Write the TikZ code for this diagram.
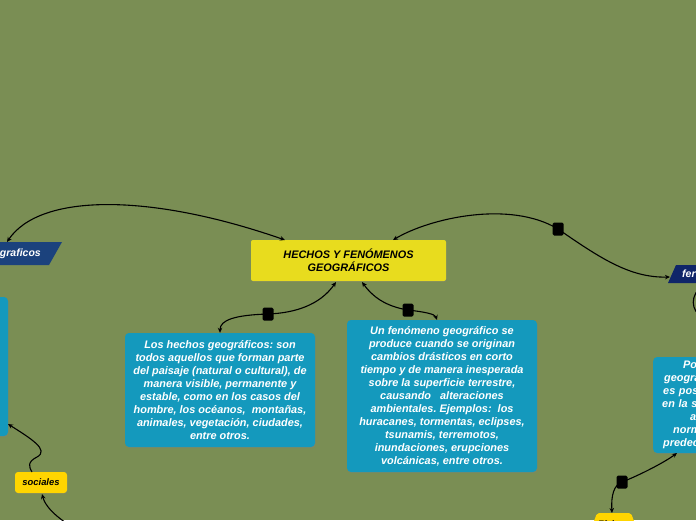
\documentclass[tikz,border=0pt]{standalone}
\usepackage{fontspec}
\setmainfont{Liberation Sans}
\usetikzlibrary{arrows.meta,shadows}
\definecolor{bg}{RGB}{122,142,84}
\definecolor{mainyellow}{RGB}{232,220,30}
\definecolor{boxblue}{RGB}{20,153,189}
\definecolor{leftnavy}{RGB}{27,66,125}
\definecolor{rightnavy}{RGB}{15,37,105}
\definecolor{subyellow}{RGB}{255,213,0}
\frenchspacing
\tikzset{
  tip/.tip={Stealth[length=5pt,width=4.5pt]},
  conn/.style={line width=1.1pt, draw=black},
  both/.style={conn, tip-tip},
  atstart/.style={conn, tip-},
  atend/.style={conn, -tip},
  marker/.style={fill=black, rounded corners=1.5pt, minimum width=11pt, minimum height=13pt, inner sep=0pt},
  bluebox/.style={fill=boxblue, rounded corners=4pt, text=white, inner sep=0pt,
    font=\fontsize{10.9}{13}\selectfont\bfseries\itshape, align=center,
    drop shadow={shadow xshift=0.6pt, shadow yshift=-1.2pt, opacity=0.35}},
  mainbox/.style={fill=mainyellow, rounded corners=2pt, text=black, inner sep=0pt,
    font=\fontsize{10.9}{13}\selectfont\bfseries\itshape, align=center,
    minimum width=195pt, minimum height=41pt,
    drop shadow={shadow xshift=0.6pt, shadow yshift=-1.2pt, opacity=0.3}},
  subbox/.style={fill=subyellow, rounded corners=3pt, text=black, inner sep=0pt,
    font=\fontsize{9.4}{11}\selectfont\bfseries\itshape,
    minimum width=52pt, minimum height=21pt,
    drop shadow={shadow xshift=0.6pt, shadow yshift=-1.2pt, opacity=0.3}},
  navytext/.style={text=white, inner sep=0pt, font=\fontsize{10.5}{12}\selectfont\bfseries\itshape},
  subtext/.style={text=black, inner sep=0pt, font=\fontsize{9.4}{11}\selectfont\bfseries\itshape},
}
\begin{document}
\begin{tikzpicture}[x=1pt,y=-1pt]
\useasboundingbox (0,0) rectangle (696,520);
\fill[bg] (0,0) rectangle (696,520);
\clip (0,0) rectangle (696,520);

% parallelogram labels
\fill[leftnavy] (-30,242) -- (62,242) -- (49,265) -- (-30,265) -- cycle;
\node[navytext, anchor=east] (graf) at (41,253.5) {graficos};
\fill[rightnavy] (676,265) -- (730,265) -- (722,283) -- (668,283) -- cycle;
\node[navytext, anchor=west] (fer) at (682,274) {fer};

% main node
\node[mainbox] (main) at (348.5,260.5) {HECHOS Y FENÓMENOS\\GEOGRÁFICOS};

% blue boxes
\node[bluebox, minimum width=190pt, minimum height=114pt] (hechos) at (220,390)
 {Los hechos geográficos: son\\todos aquellos que forman parte\\del paisaje (natural o cultural), de\\manera visible, permanente y\\estable, como en los casos del\\hombre, los océanos,\ \ montañas,\\animales, vegetación, ciudades,\\entre otros.};
\node[bluebox, minimum width=190pt, minimum height=152pt] (fen) at (442,396)
 {Un fenómeno geográfico se\\produce cuando se originan\\cambios drásticos en corto\\tiempo y de manera inesperada\\sobre la superficie terrestre,\\causando\ \ \ alteraciones\\ambientales. Ejemplos:\ \ los\\huracanes, tormentas, eclipses,\\tsunamis, terremotos,\\inundaciones, erupciones\\volcánicas, entre otros.};
\node[bluebox, minimum width=108pt, minimum height=139pt] (leftbox) at (-46,366.5) {};
\node[bluebox, anchor=west, text width=129pt, align=left, inner xsep=9pt, minimum height=96pt] (rightbox) at (653,405)
 {\hspace*{21pt}Po\\\hspace*{2pt}geogra\\\hspace*{1pt}es pos\\en la s\\\hspace*{28pt}a\\\hspace*{11pt}norm\\\hspace*{1pt}predec};

% small yellow nodes
\node[subbox] (soc) at (41,482.5) {sociales};
\fill[subyellow, rounded corners=2pt] (597,513) -- (631,513) -- (638,532) -- (590,532) -- cycle;
\node[subtext, anchor=base] (fis) at (614,527.5) {Físicos};

% markers
\node[marker] (mk1) at (268,314) {};
\node[marker] (mk2) at (408,310) {};
\node[marker] (mk3) at (558,229) {};
\node[marker] (mk4) at (622,482) {};

% anchor points
\coordinate (mainA) at (285,240);
\coordinate (grafA) at (7,242);
\coordinate (mainB) at (393,240);
\coordinate (ferA) at (670,277);
\coordinate (mainC) at (336,282);
\coordinate (mainD) at (362,282);
\coordinate (fenA) at (437,320);
\coordinate (rightA) at (677,453);
\coordinate (fisA) at (612,513);
\coordinate (leftA) at (8,424);
\coordinate (socA) at (32,472);
\coordinate (socB) at (42,494);
\coordinate (offA) at (72,527);
\coordinate (ferB) at (703,285);
\coordinate (offB) at (703,318);

% connectors
\draw[both] (mainA) .. controls (150,193) and (40,193) .. (grafA);
\draw[atstart] (mainB) .. controls (430,218) and (510,200) .. (mk3.center);
\draw[atend] (mk3.center) .. controls (600,258) and (630,278) .. (ferA);
\draw[atstart] (mainC) .. controls (320,305) and (295,313) .. (mk1.center);
\draw[atend] (mk1.center) .. controls (235,315) and (220,320) .. (hechos.north);
\draw[atstart] (mainD) .. controls (375,300) and (390,307) .. (mk2.center);
\draw[atend] (mk2.center) .. controls (425,312) and (435,314) .. (fenA);
\draw[atstart] (rightA) .. controls (665,462) and (640,475) .. (mk4.center);
\draw[atend] (mk4.center) .. controls (614,485) and (611,495) .. (fisA);
\draw[atstart] (leftA) .. controls (30,438) and (50,450) .. (37,457) .. controls (27,462) and (29,467) .. (socA);
\draw[atstart] (socB) .. controls (45,505) and (52,514) .. (offA);
\draw[conn] (ferB) .. controls (690,295) and (690,310) .. (offB);
\end{tikzpicture}
\end{document}
